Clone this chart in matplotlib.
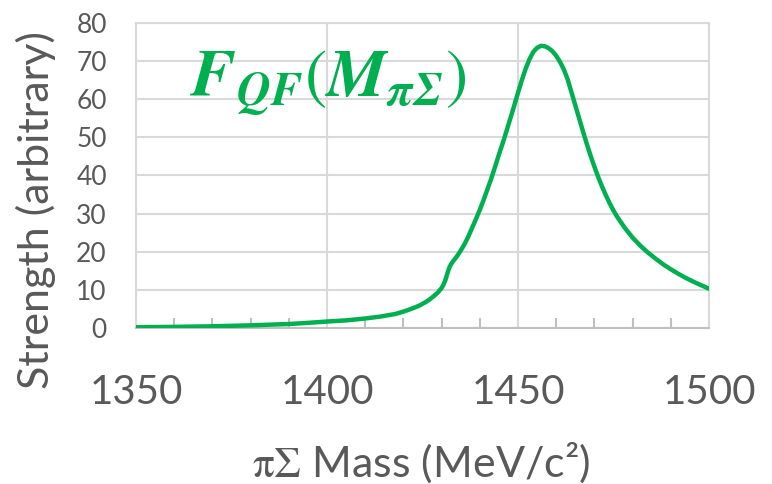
import matplotlib
matplotlib.use("Agg")
import matplotlib.pyplot as plt
from matplotlib.ticker import MultipleLocator

plt.rcParams["font.family"] = ["Lato", "DejaVu Sans"]
plt.rcParams["mathtext.fontset"] = "stix"

# pi-Sigma invariant mass (MeV/c^2) and quasi-free strength
mass = [1350, 1360, 1370, 1380, 1390, 1395, 1400, 1405, 1410, 1414,
        1418, 1420, 1422, 1424, 1426, 1427, 1428, 1429, 1430, 1430.5,
        1431, 1431.5, 1432, 1432.5, 1433, 1434, 1435, 1436, 1437, 1438,
        1439, 1440, 1441, 1442, 1443, 1444, 1445, 1446, 1447, 1448,
        1449, 1450, 1451, 1452, 1453, 1454, 1455, 1456, 1457, 1458,
        1459, 1460, 1461, 1462, 1463, 1464, 1465, 1466, 1467, 1468,
        1469, 1470, 1471, 1472, 1473, 1474, 1475, 1476, 1478, 1480,
        1482, 1484, 1486, 1488, 1490, 1492, 1494, 1496, 1498, 1500]
strength = [0.2, 0.3, 0.45, 0.7, 1.05, 1.35, 1.7, 2.0, 2.5, 3.0,
            3.7, 4.3, 5.0, 5.8, 6.9, 7.6, 8.4, 9.3, 10.5, 11.4,
            12.6, 14.3, 15.8, 16.8, 17.5, 18.8, 20.3, 22.0, 24.0, 26.3,
            28.6, 31.0, 33.6, 36.4, 39.2, 42.3, 45.5, 48.5, 51.7, 55.0,
            58.3, 61.7, 65.0, 68.0, 70.5, 72.4, 73.5, 74.0, 73.9, 73.4,
            72.6, 71.4, 69.8, 67.8, 65.2, 61.8, 58.4, 55.0, 51.6, 48.3,
            45.2, 42.3, 39.6, 37.1, 34.8, 32.7, 30.8, 29.1, 26.2, 23.7,
            21.6, 19.8, 18.2, 16.7, 15.4, 14.2, 13.1, 12.1, 11.2, 10.3]

xticks = [1350, 1400, 1450, 1500]
yticks = [0, 10, 20, 30, 40, 50, 60, 70, 80]

green = "#00B050"
grid = "#D9D9D9"
text = "#595959"

fig = plt.figure(figsize=(7.72, 4.84), dpi=100)
ax = fig.add_axes([0.1762, 0.3223, 0.7422, 0.6302])

ax.plot(mass, strength, color=green, lw=3.2, solid_capstyle="round",
        solid_joinstyle="round", zorder=3)

ax.set_xlim(1350, 1500)
ax.set_ylim(0, 80)
ax.set_xticks(xticks)
ax.set_yticks(yticks)
ax.xaxis.set_minor_locator(MultipleLocator(10))
ax.grid(True, which="major", color=grid, lw=1.5)
ax.set_axisbelow(True)

for side in ["left", "right", "top"]:
    ax.spines[side].set_color(grid)
    ax.spines[side].set_linewidth(1.5)
ax.spines["bottom"].set_color("#BFBFBF")
ax.spines["bottom"].set_linewidth(1.5)

ax.tick_params(axis="y", length=0, pad=21, labelsize=19, labelcolor=text)
ax.tick_params(axis="x", which="major", direction="in", length=0, pad=33,
               labelsize=29, labelcolor=text)
ax.tick_params(axis="x", which="minor", direction="in", length=7,
               width=1.5, color="#BFBFBF")

# axis titles placed in figure pixels
fig.text(36 / 772, 1 - 210 / 484, "Strength (arbitrary)", rotation=90,
         fontsize=31, color=text, ha="center", va="center")
fig.text(421 / 772, 1 - 477 / 484, r"$\mathrm{\pi\Sigma}$ Mass (MeV/c²)",
         fontsize=31, color=text, ha="center", va="baseline")

ax.text(0.094, 0.757, r"$\mathbfit{F}_{\mathbfit{QF}}(\mathbfit{M}_{\mathbfit{\pi\Sigma}})$",
        transform=ax.transAxes, fontsize=48, color=green, va="baseline", ha="left")

fig.savefig("out.png", dpi=100)
